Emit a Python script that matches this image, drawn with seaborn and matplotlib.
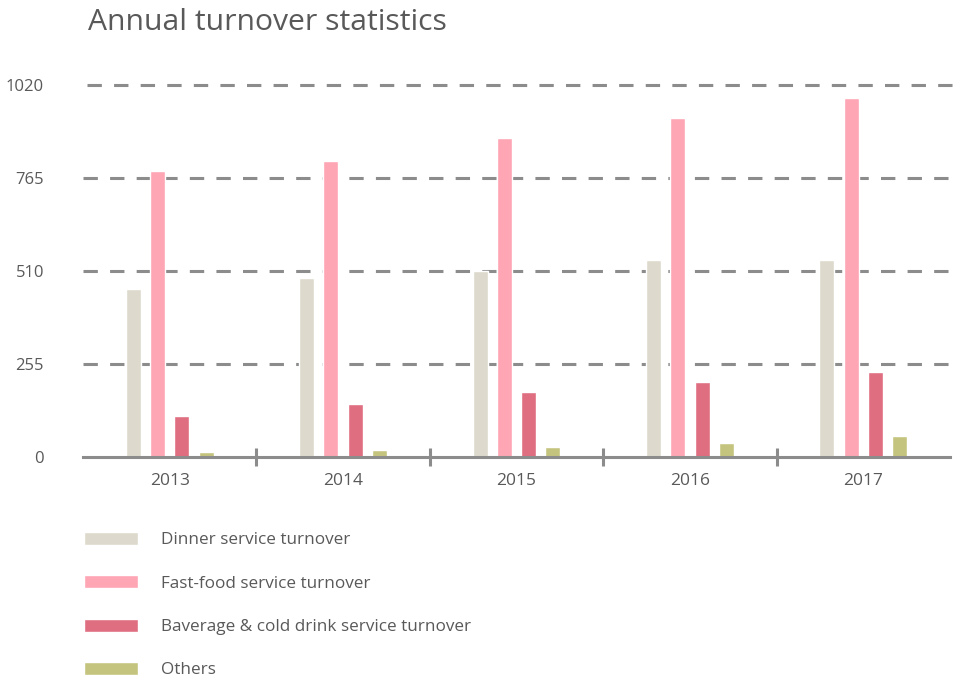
import matplotlib
matplotlib.use("Agg")
import matplotlib.pyplot as plt
import seaborn as sns
import pandas as pd

years = ["2013", "2014", "2015", "2016", "2017"]
series_names = [
    "Dinner service turnover",
    "Fast-food service turnover",
    "Baverage & cold drink service turnover",
    "Others",
]
dinner = [460, 491, 510, 540, 540]
fast_food = [785, 812, 875, 930, 985]
beverage = [112, 145, 178, 205, 233]
others = [13, 18, 27, 38, 57]
y_ticks = [0, 255, 510, 765, 1020]
colors = ["#dddacd", "#fea6b4", "#df6e80", "#c4c47e"]

rows = []
for name, vals in zip(series_names, [dinner, fast_food, beverage, others]):
    for yr, v in zip(years, vals):
        rows.append({"year": yr, "series": name, "value": v})
df = pd.DataFrame(rows)

sns.set_theme(style="white")
plt.rcParams["font.family"] = ["Open Sans", "DejaVu Sans"]
txt = "#595959"
grey = "#8c8c8c"

W, H = 954, 679
fig = plt.figure(figsize=(W / 100, H / 100), dpi=100)
ymax = 1040
scale = 371.4 / 1020
base = 456.7
top_px = base - ymax * scale
ax = fig.add_axes([83 / W, (H - base) / H, (950 - 83) / W, (base - top_px) / H])

sns.barplot(data=df, x="year", y="value", hue="series", hue_order=series_names,
            order=years, palette=colors, width=0.56, gap=0.38, ax=ax,
            saturation=1, legend=True)

ax.set_ylim(0, ymax)
ax.set_xlim(-0.5, 4.5)
ax.set_xlabel("")
ax.set_ylabel("")
ax.set_yticks(y_ticks)
ax.set_yticklabels([str(t) for t in y_ticks])
for s in ["top", "right", "left"]:
    ax.spines[s].set_visible(False)
ax.spines["bottom"].set_color(grey)
ax.spines["bottom"].set_linewidth(2.2)
ax.spines["bottom"].set_zorder(5)

for t in y_ticks[1:]:
    ax.axhline(t, color=grey, linewidth=2.2, dashes=(4.7, 4.0), zorder=0,
               xmin=(87 - 83) / (950 - 83) if t == 1020 else 0, xmax=1.01,
               clip_on=False)

ax.tick_params(axis="y", length=0, pad=28, labelsize=12, labelcolor=txt)
ax.tick_params(axis="x", which="major", length=0, pad=12, labelsize=12.5, labelcolor=txt)
ax.set_xticks([0.5, 1.5, 2.5, 3.5], minor=True)
ax.tick_params(axis="x", which="minor", direction="inout", length=13, width=2.2,
               color=grey, bottom=True)

handles, labels = ax.get_legend_handles_labels()
ax.legend_.remove()
fig.legend(handles, labels, loc="upper left",
           bbox_to_anchor=(84 / W, 1 - 532 / H), frameon=False,
           fontsize=12.3, labelcolor=txt, handlelength=3.15, handleheight=0.8,
           handletextpad=1.37, labelspacing=1.57, borderpad=0, borderaxespad=0)

fig.text(88 / W, 1 - 23 / H, "Annual turnover statistics", fontsize=21.7,
         color=txt, va="center", ha="left")

fig.savefig("out.png", dpi=100)
